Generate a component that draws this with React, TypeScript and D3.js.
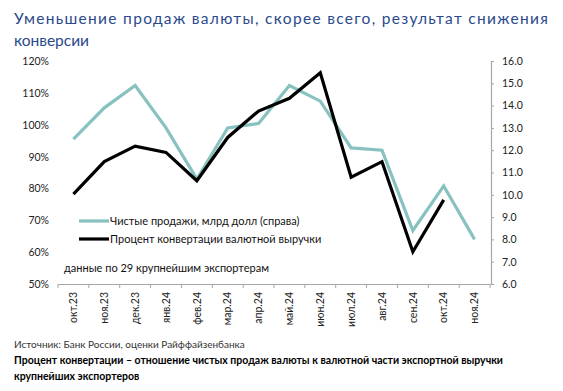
import { useEffect, useRef } from 'react';
import * as d3 from 'd3';

const months = ['окт.23', 'ноя.23', 'дек.23', 'янв.24', 'фев.24', 'мар.24', 'апр.24', 'май.24', 'июн.24', 'июл.24', 'авг.24', 'сен.24', 'окт.24', 'ноя.24'];
// чистые продажи, млрд долл (правая ось)
const netSales = [12.5, 13.9, 14.9, 13.0, 10.7, 13.0, 13.2, 14.9, 14.2, 12.1, 12.0, 8.4, 10.4, 8.0];
// процент конвертации (левая ось)
const convPct: (number | null)[] = [78.2, 88.4, 93.3, 91.3, 82.4, 96.0, 104.3, 108.3, 116.3, 83.5, 88.4, 60.1, 76.4, null];
const leftTicks = [50, 60, 70, 80, 90, 100, 110, 120];
const rightTicks = [6, 7, 8, 9, 10, 11, 12, 13, 14, 15, 16];

const W = 563, H = 391;
const left = 58, right = 490, top = 61, bottom = 284;
const font = 'Lato, "DejaVu Sans", sans-serif';
const teal = '#88c2c0';

const App = () => {
    const ref = useRef<SVGSVGElement | null>(null);

    useEffect(() => {
        const svg = d3.select(ref.current);
        svg.selectAll('*').remove();

        const x = d3.scaleBand<string>().domain(months).range([left, right]).padding(0);
        const yL = d3.scaleLinear().domain([50, 120]).range([bottom, top]);
        const yR = d3.scaleLinear().domain([6, 16]).range([bottom, top]);
        const cx = (m: string) => (x(m) ?? 0) + x.bandwidth() / 2;

        // title
        svg.append('text').attr('x', 14).attr('y', 24)
            .attr('textLength', 534).attr('lengthAdjust', 'spacing')
            .style('font-family', font).style('font-size', '15.5px').attr('fill', '#2b4a8b')
            .text('Уменьшение продаж валюты, скорее всего, результат снижения');
        svg.append('text').attr('x', 14).attr('y', 46)
            .style('font-family', font).style('font-size', '15.5px').attr('fill', '#2b4a8b')
            .text('конверсии');

        // left axis labels
        svg.append('g').selectAll('text').data(leftTicks).join('text')
            .attr('x', 49).attr('y', d => yL(d) + 4).attr('text-anchor', 'end')
            .style('font-family', font).style('font-size', '10.5px').attr('fill', '#222')
            .text(d => d + '%');

        // right axis
        const ra = svg.append('g').attr('transform', `translate(${right + 1},0)`)
            .call(d3.axisRight(yR).tickValues(rightTicks).tickSize(3).tickPadding(8).tickFormat(d => (+d).toFixed(1)));
        ra.select('.domain').attr('stroke', '#a6a6a6').attr('stroke-width', 1.2);
        ra.selectAll('line').attr('stroke', '#a6a6a6');
        ra.selectAll('text').style('font-family', font).style('font-size', '10.5px').attr('fill', '#222');

        // x axis
        const xa = svg.append('g').attr('transform', `translate(0,${bottom})`)
            .call(d3.axisBottom(x).tickSize(0).tickSizeOuter(0));
        xa.select('.domain').attr('stroke', '#a6a6a6').attr('stroke-width', 1.2);
        xa.selectAll('text')
            .attr('transform', 'rotate(-90)')
            .attr('x', -8).attr('y', 0).attr('dy', '0.35em')
            .attr('text-anchor', 'end')
            .style('font-family', font).style('font-size', '10.5px').attr('fill', '#222');
        svg.append('g').selectAll('line').data([...months.map(m => x(m) ?? 0), right]).join('line')
            .attr('x1', d => d).attr('x2', d => d).attr('y1', bottom).attr('y2', bottom + 4)
            .attr('stroke', '#a6a6a6');

        // lines
        svg.append('path').datum(netSales)
            .attr('fill', 'none').attr('stroke', teal).attr('stroke-width', 3.2)
            .attr('d', d3.line<number>().x((_, i) => cx(months[i])).y(d => yR(d)));
        svg.append('path').datum(convPct)
            .attr('fill', 'none').attr('stroke', '#000').attr('stroke-width', 3.2)
            .attr('d', d3.line<number | null>().defined(d => d !== null).x((_, i) => cx(months[i])).y(d => yL(d as number)));

        // legend
        const lg = [
            { c: teal, t: 'Чистые продажи, млрд долл (справа)', y: 221 },
            { c: '#000', t: 'Процент конвертации валютной выручки', y: 239 },
        ];
        lg.forEach(l => {
            svg.append('line').attr('x1', 79).attr('x2', 109).attr('y1', l.y).attr('y2', l.y)
                .attr('stroke', l.c).attr('stroke-width', 3.2);
            svg.append('text').attr('x', 110).attr('y', l.y + 4)
                .style('font-family', font).style('font-size', '11px').attr('fill', '#111').text(l.t);
        });
        svg.append('text').attr('x', 64).attr('y', 272)
            .style('font-family', font).style('font-size', '11px').attr('fill', '#111')
            .text('данные по 29 крупнейшим экспортерам');

        // footer
        svg.append('text').attr('x', 14).attr('y', 348)
            .style('font-family', font).style('font-size', '10px').attr('fill', '#333')
            .text('Источник: Банк России, оценки Райффайзенбанка');
        svg.append('text').attr('x', 14).attr('y', 364)
            .style('font-family', font).style('font-size', '10.5px').style('font-weight', 'bold').attr('fill', '#000')
            .text('Процент конвертации – отношение чистых продаж валюты к валютной части экспортной выручки');
        svg.append('text').attr('x', 14).attr('y', 380)
            .style('font-family', font).style('font-size', '10.5px').style('font-weight', 'bold').attr('fill', '#000')
            .text('крупнейших экспортеров');
    }, []);

    return (
        <svg ref={ref} width={W} height={H} style={{ position: 'absolute', left: 0, top: 0, background: '#fff' }}></svg>
    );
};

export default App;
